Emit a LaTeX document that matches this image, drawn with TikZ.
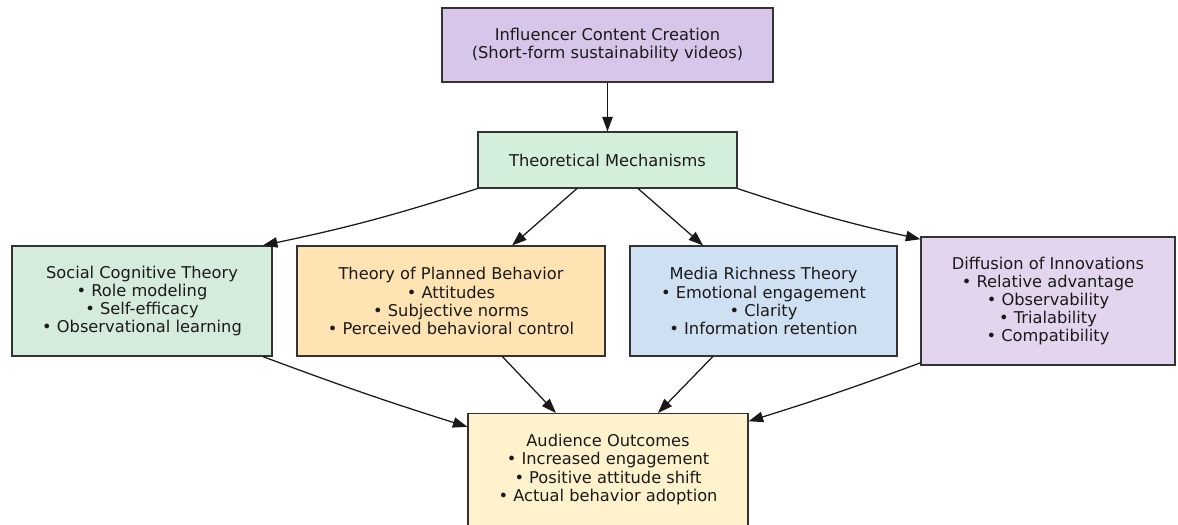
\documentclass[tikz,border=0pt]{standalone}
\usepackage{fontspec}
\setmainfont{DejaVu Sans}
\usetikzlibrary{arrows.meta}

\definecolor{boxline}{HTML}{333333}
\definecolor{boxtext}{HTML}{1A1A1A}
\definecolor{lavender}{HTML}{D8C6EA}
\definecolor{mintgreen}{HTML}{D3EFDB}
\definecolor{sagegreen}{HTML}{D5EBDC}
\definecolor{apricot}{HTML}{FFE3B3}
\definecolor{skyblue}{HTML}{CFE0F2}
\definecolor{lilac}{HTML}{E3D5EE}
\definecolor{cream}{HTML}{FFF2CC}

\begin{document}
\begin{tikzpicture}[x=0.72pt, y=-0.72pt,
    box/.style={draw=boxline, line width=0.8pt, inner sep=0pt, align=center,
        text=boxtext, font=\fontsize{11.7}{13}\selectfont},
    link/.style={-{Triangle[length=10.5pt,width=7.5pt]}, line width=0.9pt, black!90}]

    \useasboundingbox (0, 0) rectangle (1178, 524);

    % Declare the boxes
    \node[box, fill=lavender, minimum width=238.3pt, minimum height=53.3pt] at (607.5, 45) (content)
        {Influencer Content Creation\\(Short-form sustainability videos)};
    \node[box, fill=mintgreen, minimum width=186.5pt, minimum height=40.3pt] at (607.5, 160) (mech)
        {Theoretical Mechanisms};
    \node[box, fill=sagegreen, minimum width=187.2pt, minimum height=79.2pt] at (142, 301) (sct)
        {Social Cognitive Theory\\• Role modeling\\• Self-efficacy\\• Observational learning};
    \node[box, fill=apricot, minimum width=221.8pt, minimum height=79.2pt] at (451, 301) (tpb)
        {Theory of Planned Behavior\\• Attitudes\\• Subjective norms\\• Perceived behavioral control};
    \node[box, fill=skyblue, minimum width=192.2pt, minimum height=79.2pt] at (763.5, 301) (mrt)
        {Media Richness Theory\\• Emotional engagement\\• Clarity\\• Information retention};
    \node[box, fill=lilac, minimum width=182.9pt, minimum height=92.2pt] at (1048, 301) (doi)
        {Diffusion of Innovations\\• Relative advantage\\• Observability\\• Trialability\\• Compatibility};
    \node[box, fill=cream, minimum width=201.6pt, minimum height=80.6pt] at (608, 469.5) (outcomes)
        {Audience Outcomes\\• Increased engagement\\• Positive attitude shift\\• Actual behavior adoption};

    % Declare edges
    \draw[link] (content) -- (mech);
    \draw[link] (mech.south west) to[bend left=3] ([xshift=-7pt]sct.north east);
    \draw[link] ([xshift=-22pt]mech.south) -- ([xshift=44pt]tpb.north);
    \draw[link] ([xshift=22pt]mech.south) -- ([xshift=-43.5pt]mrt.north);
    \draw[link] (mech.south east) to[bend right=3] ([yshift=-2pt]doi.north west);

    % Declare edges into the outcomes
    \draw[link] ([xshift=-7pt]sct.south east) to[bend right=1.5] ([yshift=-10pt]outcomes.north west);
    \draw[link] ([xshift=37pt]tpb.south) -- ([xshift=-37.5pt]outcomes.north);
    \draw[link] ([xshift=-36.5pt]mrt.south) -- ([xshift=36pt]outcomes.north);
    \draw[link] ([yshift=2pt]doi.south west) to[bend left=1.5] ([yshift=-6pt]outcomes.north east);

\end{tikzpicture}
\end{document}
